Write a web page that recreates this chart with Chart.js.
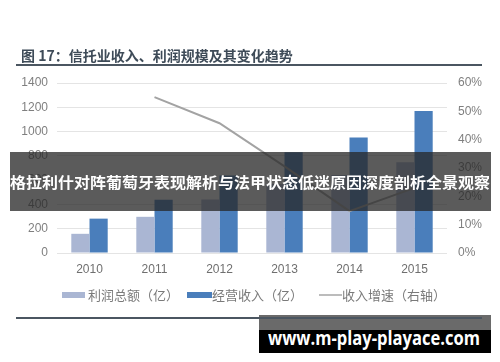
<!DOCTYPE html>
<html>
<head>
<meta charset="utf-8">
<script src="https://cdn.jsdelivr.net/npm/chart.js@4.4.0/dist/chart.umd.min.js"></script>
<style>
    html, body { margin: 0; padding: 0; background: #fff; }
    #wrap { position: relative; width: 500px; height: 362px; overflow: hidden; }
    #chart { position: absolute; left: 0; top: 0; }
    .title {
        position: absolute; left: 21px; top: 45px;
        font: bold 14px "Noto Sans CJK SC", sans-serif; color: #3e4b58;
        line-height: 20px; white-space: nowrap;
    }
    .rule { position: absolute; left: 16px; width: 466px; height: 2px; background: #4b5661; }
    .banner {
        position: absolute; left: 10px; top: 152px; width: 481px; height: 59px;
        background: rgba(40, 40, 40, 0.76); color: #fff;
        font: bold 15px "Noto Sans CJK SC", sans-serif; line-height: 59px;
        text-align: center; white-space: nowrap;
    }
    .mark {
        position: absolute; left: 259px; top: 315px; width: 232px; height: 38px;
        background: linear-gradient(#6a6a6a 0, #6a6a6a 15px, #000 15px);
    }
    .mark span {
        position: absolute; left: 9px; top: 12px; white-space: nowrap;
        color: #fff; font: bold 19px "Open Sans", sans-serif; line-height: 22px;
        transform-origin: 0 50%;
    }
</style>
</head>
<body>
<div id="wrap">
    <canvas id="chart" width="500" height="362"></canvas>
    <div class="title">图 17：信托业收入、利润规模及其变化趋势</div>
    <div class="rule" style="top:64px"></div>
    <div class="banner"><span id="bannerText">格拉利什对阵葡萄牙表现解析与法甲状态低迷原因深度剖析全景观察</span></div>
    <div class="mark"><span id="markText">www.m-play-playace.com</span></div>
    <div class="rule" style="top:317px"></div>
</div>
<script>
// Data
const years = ['2010', '2011', '2012', '2013', '2014', '2015'];
const profit = [158, 298, 440, 568, 642, 748];        // 利润总额（亿）
const revenue = [283, 438, 638, 830, 952, 1170];      // 经营收入（亿）
const growth = [null, 55, 45.8, 30.6, 14.8, 23];      // 收入增速（右轴）%
const seriesNames = ['利润总额（亿）', '经营收入（亿）', '收入增速（右轴）'];

const tickColor = '#7f7f7f';
const gridColor = '#e4e4e4';

// Stretch the overlay texts to the widths seen in the reference
function fitWidth(id, target) {
    const el = document.getElementById(id);
    const w = el.getBoundingClientRect().width;
    if (w > 0) {
        el.style.display = 'inline-block';
        el.style.transform = 'scaleX(' + (target / w) + ')';
    }
}
fitWidth('bannerText', 480);
fitWidth('markText', 212);

// Legend drawn by hand so swatches match the reference
const legendPlugin = {
    id: 'bottomLegend',
    afterDraw(chart) {
        const ctx = chart.ctx;
        const y = 295;
        ctx.save();
        ctx.font = '13px "Noto Sans CJK SC", sans-serif';
        ctx.textBaseline = 'middle';

        ctx.fillStyle = '#aab6d3';
        ctx.fillRect(62, y - 3, 23, 6);
        ctx.fillStyle = '#7a7a7a';
        ctx.fillText(seriesNames[0], 88, y);

        ctx.fillStyle = '#4a7ebb';
        ctx.fillRect(187, y - 3, 25, 6);
        ctx.fillStyle = '#7a7a7a';
        ctx.fillText(seriesNames[1], 212, y);

        ctx.strokeStyle = '#a6a6a6';
        ctx.lineWidth = 1.5;
        ctx.beginPath();
        ctx.moveTo(319, y);
        ctx.lineTo(342, y);
        ctx.stroke();
        ctx.fillText(seriesNames[2], 342, y);
        ctx.restore();
    }
};

new Chart(document.getElementById('chart'), {
    type: 'bar',
    data: {
        labels: years,
        datasets: [
            {
                type: 'line',
                label: seriesNames[2],
                data: growth,
                yAxisID: 'y1',
                borderColor: '#a3a3a3',
                borderWidth: 2,
                pointRadius: 0,
                tension: 0,
                order: 0
            },
            {
                label: seriesNames[0],
                data: profit,
                backgroundColor: '#aab6d3',
                yAxisID: 'y',
                categoryPercentage: 0.56,
                barPercentage: 1,
                order: 1
            },
            {
                label: seriesNames[1],
                data: revenue,
                backgroundColor: '#4a7ebb',
                yAxisID: 'y',
                categoryPercentage: 0.56,
                barPercentage: 1,
                order: 1
            }
        ]
    },
    options: {
        responsive: false,
        animation: false,
        layout: { padding: { top: 83, bottom: 89, left: 0, right: 0 } },
        plugins: {
            legend: { display: false },
            tooltip: { enabled: false }
        },
        scales: {
            x: {
                grid: { display: false, drawTicks: false },
                border: { display: false },
                ticks: {
                    color: '#6f6f6f',
                    padding: 9,
                    font: { family: 'Liberation Sans', size: 12 }
                },
                afterFit(scale) { scale.height = 20; }
            },
            y: {
                position: 'left',
                min: 0,
                max: 1400,
                ticks: {
                    stepSize: 200,
                    color: tickColor,
                    padding: 9,
                    font: { family: 'Liberation Sans', size: 12 },
                    callback: v => String(v)
                },
                grid: { color: gridColor, drawTicks: false },
                border: { display: false },
                afterFit(scale) { scale.width = 57; }
            },
            y1: {
                position: 'right',
                min: 0,
                max: 60,
                ticks: {
                    stepSize: 10,
                    color: tickColor,
                    padding: 11,
                    font: { family: 'Liberation Sans', size: 12 },
                    callback: v => v + '%'
                },
                grid: { display: false, drawTicks: false },
                border: { display: false },
                afterFit(scale) { scale.width = 53; }
            }
        }
    },
    plugins: [legendPlugin]
});
</script>
</body>
</html>
